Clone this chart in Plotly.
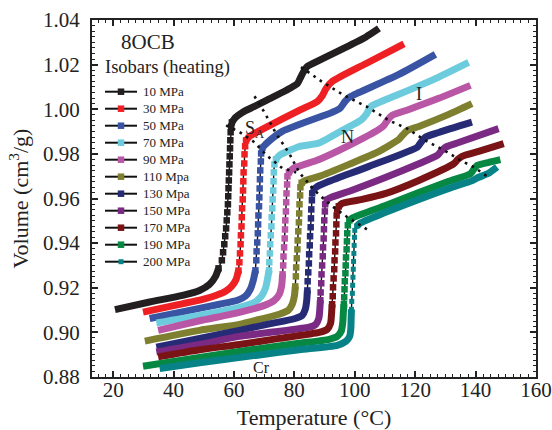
import plotly.graph_objects as go

# ---------------- data (Temperature in °C, Volume in cm3/g) ----------------
names = ["10 MPa", "30 MPa", "50 MPa", "70 MPa", "90 MPa", "110 Mpa",
         "130 Mpa", "150 MPa", "170 MPa", "190 MPa", "200 MPa"]
colors = ["#231f20", "#ee2024", "#3a54a4", "#6ccbdc", "#b956a5", "#7e7f2f",
          "#272b76", "#7b2a84", "#7a1315", "#068843", "#078388"]

# crystal branch
CR10 = [(20.6, .9102), (32.1, .9136), (43.0, .9166), (48.6, .9188), (51.9, .9215), (53.9, .9251), (54.9, .9287)]
CR30 = [(29.9, .9091), (40.4, .9121), (50.3, .9150), (54.2, .9166), (57.2, .9184), (59.2, .9206), (60.7, .9237), (61.5, .9277)]
CR50 = [(32.1, .9062), (43.7, .9094), (55.2, .9126), (61.2, .9144), (63.8, .9162), (65.4, .9193), (66.4, .9233), (67.1, .9278)]
CR70 = [(34.3, .9042), (48.6, .9076), (61.8, .9112), (66.8, .9135), (69.1, .9162), (70.4, .9197), (71.1, .9238), (71.6, .9278)]
CR90 = [(34.9, .9009), (48.6, .9052), (61.8, .9090), (70.1, .9121), (73.4, .9144), (75.0, .9171), (75.8, .9211), (76.1, .9260)]
CR110 = [(30.5, .8961), (48.6, .9009), (61.8, .9036), (68.4, .9058), (75.0, .9081), (78.0, .9099), (79.3, .9126), (80.0, .9162), (80.3, .9206)]
CR130 = [(34.3, .8934), (48.6, .8973), (61.8, .9009), (71.7, .9038), (80.0, .9061), (82.6, .9076), (83.6, .9103), (84.1, .9144), (84.3, .9188)]
CR150 = [(34.3, .8912), (48.6, .8946), (61.8, .8982), (75.0, .9005), (84.9, .9023), (87.1, .9036), (88.1, .9063), (88.4, .9099), (88.6, .9144)]
CR170 = [(34.9, .8890), (48.6, .8922), (61.8, .8946), (75.0, .8973), (88.2, .9000), (90.9, .9014), (92.0, .9041), (92.3, .9081), (92.5, .9126)]
CR190 = [(29.9, .8848), (48.6, .8888), (68.4, .8927), (81.6, .8951), (91.5, .8969), (94.2, .8982), (95.5, .9005), (96.0, .9041), (96.2, .9085), (96.4, .9126)]
CR200 = [(35.4, .8838), (48.6, .8864), (68.4, .8899), (81.6, .8922), (94.2, .8942), (97.1, .8960), (98.3, .8982), (98.7, .9018), (98.8, .9063), (98.9, .9103)]

# melting jump (individual points visible)
MELT10 = [(56.0, .9323), (56.4, .9359), (56.8, .9395), (57.1, .9431), (57.4, .9466), (57.6, .9502), (57.8, .9538), (58.0, .9574), (58.1, .9610), (58.2, .9646), (58.3, .9681), (58.4, .9717), (58.5, .9753), (58.6, .9789), (58.7, .9825), (58.8, .9861), (58.9, .9897), (59.1, .9923)]
MELT30 = [(61.8, .9314), (62.0, .9354), (62.2, .9395), (62.3, .9435), (62.5, .9475), (62.6, .9516), (62.7, .9556), (62.9, .9596), (63.0, .9636), (63.1, .9677), (63.2, .9717), (63.4, .9757), (63.5, .9798), (63.7, .9834)]
MELT50 = [(67.4, .9323), (67.5, .9363), (67.7, .9403), (67.9, .9444), (68.0, .9484), (68.1, .9524), (68.3, .9565), (68.4, .9605), (68.5, .9645), (68.6, .9686), (68.7, .9726), (68.9, .9766), (69.0, .9802)]
MELT70 = [(71.7, .9314), (71.9, .9354), (72.0, .9395), (72.2, .9435), (72.4, .9475), (72.5, .9516), (72.7, .9556), (72.8, .9596), (73.0, .9636), (73.1, .9677), (73.2, .9717), (73.4, .9753)]
MELT90 = [(76.3, .9300), (76.4, .9340), (76.6, .9381), (76.8, .9421), (76.9, .9461), (77.0, .9502), (77.2, .9542), (77.3, .9583), (77.4, .9623), (77.6, .9663), (77.7, .9699)]
MELT110 = [(80.5, .9251), (80.6, .9291), (80.8, .9332), (81.0, .9372), (81.1, .9412), (81.3, .9453), (81.5, .9493), (81.6, .9533), (81.7, .9574), (81.9, .9614), (82.0, .9650)]
MELT130 = [(84.4, .9229), (84.6, .9269), (84.8, .9309), (84.9, .9350), (85.1, .9390), (85.2, .9431), (85.4, .9471), (85.5, .9511), (85.6, .9551), (85.8, .9592), (85.9, .9623)]
MELT150 = [(88.7, .9179), (88.9, .9220), (89.0, .9260), (89.2, .9300), (89.4, .9341), (89.5, .9381), (89.7, .9421), (89.8, .9462), (89.9, .9502), (90.1, .9542), (90.2, .9574)]
MELT170 = [(92.7, .9162), (92.8, .9202), (93.0, .9242), (93.2, .9283), (93.3, .9323), (93.5, .9363), (93.6, .9403), (93.8, .9444), (93.9, .9484), (94.0, .9524), (94.2, .9551)]
MELT190 = [(96.5, .9157), (96.6, .9193), (96.7, .9229), (96.9, .9265), (97.0, .9300), (97.1, .9336), (97.3, .9372), (97.4, .9408), (97.5, .9444), (97.7, .9480)]
MELT200 = [(99.0, .9139), (99.2, .9175), (99.3, .9211), (99.4, .9247), (99.5, .9283), (99.6, .9318), (99.7, .9354), (99.8, .9390), (99.9, .9426), (100.0, .9457)]

# smectic / nematic / isotropic branch
LC10 = [(59.3, .9941), (60.5, .9963), (62.9, .9987), (66.8, 1.0013), (70.6, 1.0039), (77.2, 1.0084), (81.0, 1.0115), (81.9, 1.0138), (82.9, 1.0165), (84.3, 1.0192), (86.0, 1.0204), (94.8, 1.0263), (103.6, 1.0323), (108.0, 1.0362)]
LC30 = [(64.0, .9860), (65.1, .9878), (67.8, .9899), (70.6, .9919), (81.6, .9995), (87.6, 1.0035), (89.3, 1.0062), (90.5, 1.0093), (92.6, 1.0125), (103.6, 1.0204), (116.3, 1.0293)]
LC50 = [(69.4, .9827), (70.6, .9845), (76.0, .9901), (92.5, .9986), (95.1, 1.0004), (96.8, 1.0035), (98.4, 1.0055), (101.4, 1.0075), (114.6, 1.0156), (126.7, 1.0246)]
LC70 = [(73.9, .9775), (75.0, .9793), (81.6, .9833), (88.2, .9849), (96.5, .9910), (102.1, .9952), (103.8, .9977), (105.4, 1.0013), (108.1, 1.0031), (114.6, 1.0067), (126.2, 1.0134), (137.7, 1.0210)]
LC90 = [(78.2, .9717), (79.6, .9735), (88.2, .9775), (98.1, .9838), (108.0, .9910), (109.6, .9927), (111.0, .9954), (112.3, .9972), (117.9, .9999), (127.8, 1.0049), (138.3, 1.0107)]
LC110 = [(82.4, .9670), (83.6, .9681), (88.2, .9699), (98.1, .9753), (108.0, .9811), (114.6, .9865), (115.9, .9885), (117.4, .9905), (121.2, .9923), (131.1, .9977), (138.8, 1.0025)]
LC130 = [(86.4, .9641), (87.6, .9654), (91.5, .9677), (104.7, .9744), (120.7, .9830), (121.9, .9851), (123.4, .9875), (127.8, .9896), (138.8, .9942)]
LC150 = [(90.7, .9594), (91.8, .9603), (99.1, .9637), (110.3, .9695), (121.2, .9756), (127.3, .9793), (128.5, .9811), (130.0, .9830), (134.4, .9851), (147.6, .9913)]
LC170 = [(94.7, .9565), (95.8, .9578), (102.4, .9596), (110.3, .9623), (121.2, .9681), (132.8, .9756), (134.1, .9775), (135.5, .9789), (141.0, .9811), (149.3, .9846)]
LC190 = [(98.2, .9502), (99.2, .9513), (110.2, .9569), (121.2, .9627), (131.1, .9677), (138.3, .9711), (139.4, .9731), (140.5, .9748), (144.4, .9762), (148.2, .9774)]
LC200 = [(100.6, .9475), (101.7, .9489), (110.2, .9538), (121.2, .9596), (132.1, .9650), (138.7, .9679), (141.0, .9695), (144.3, .9713), (147.1, .9741)]

# phase boundaries (dotted)
NI_LINE = [(82.2, 1.0189), (89.3, 1.0122), (96.5, 1.0062), (104.2, 1.0010), (111.3, .9950), (117.4, .9913), (123.4, .9860), (130.6, .9808), (135.0, .9771), (139.4, .9741), (144.9, .9689)]
AN_LINE = [(66.8, 1.0058), (70.1, .9986), (73.9, .9892), (78.3, .9802), (81.6, .9717), (86.6, .9637), (92.1, .9569), (97.5, .9517), (105.4, .9450)]
CRA_LINE = [(57.4, .9928), (61.8, .9898), (66.4, .9856), (71.1, .9790), (76.0, .9736), (80.6, .9717)]

CR = [CR10, CR30, CR50, CR70, CR90, CR110, CR130, CR150, CR170, CR190, CR200]
MELT = [MELT10, MELT30, MELT50, MELT70, MELT90, MELT110, MELT130, MELT150, MELT170, MELT190, MELT200]
LC = [LC10, LC30, LC50, LC70, LC90, LC110, LC130, LC150, LC170, LC190, LC200]

SERIF = "Liberation Serif, Times New Roman, serif"
INK = "#222"
W, H = 552, 430
ML, MR, MT, MB = 92, 16, 20, 53
PW, PH = W - ML - MR, H - MT - MB

fig = go.Figure()

# thick bands (dense data points)
for cr, lc, col in zip(CR, LC, colors):
    for seg in (cr, lc):
        fig.add_trace(go.Scatter(x=[p[0] for p in seg], y=[p[1] for p in seg], mode="lines",
                                 showlegend=False, hoverinfo="skip",
                                 line=dict(color=col, width=7, shape="spline", smoothing=0.6)))

# melting jumps: separated square symbols joined by a black line
for i, (cr, m, lc, col, nm) in enumerate(zip(CR, MELT, LC, colors, names)):
    pts = [cr[-1]] + m + [lc[0]]
    fig.add_trace(go.Scatter(
        x=[p[0] for p in pts], y=[p[1] for p in pts], mode="lines+markers", name=nm,
        showlegend=False,
        line=dict(color="#111", width=1.4),
        marker=dict(symbol="square", size=5 if i == 10 else 6.5, color=col, line=dict(width=0))))

for ln in (NI_LINE, AN_LINE, CRA_LINE):
    fig.add_trace(go.Scatter(x=[p[0] for p in ln], y=[p[1] for p in ln], mode="lines",
                             showlegend=False, hoverinfo="skip",
                             line=dict(color="#111", width=2.6, dash="2.6px,5px")))

axis_common = dict(showline=True, linewidth=2, linecolor=INK, mirror="allticks",
                   ticks="inside", ticklen=6, tickwidth=1.5, tickcolor=INK,
                   showgrid=False, zeroline=False, automargin=False,
                   tickfont=dict(family=SERIF, size=21, color=INK))

fig.update_xaxes(range=[13, 160], tick0=0, dtick=20, **axis_common,
                 ticklabelstandoff=-7,
                 minor=dict(dtick=2.5, ticks="inside", ticklen=3, tickwidth=1, tickcolor=INK),
                 title=dict(text="Temperature (°C)", font=dict(family=SERIF, size=22, color=INK), standoff=16))
fig.update_yaxes(range=[0.88, 1.04], dtick=0.02, tickformat=".2f", **axis_common,
                 ticklabelstandoff=6,
                 minor=dict(dtick=0.0025, ticks="inside", ticklen=3, tickwidth=1, tickcolor=INK),
                 title=dict(text="Volume (cm<sup>3</sup>/g)", font=dict(family=SERIF, size=22, color=INK), standoff=8))


def txt(x, y, s, size, **kw):
    fig.add_annotation(x=x, y=y, text=s, showarrow=False,
                       font=dict(family=SERIF, size=size, color=INK), **kw)


txt(31.5, 1.030, "8OCB", 21)
txt(16.5, 1.0188, "Isobars (heating)", 18.5, xanchor="left")
txt(66.8, 0.9911, "S<sub>A</sub>", 18)
txt(97.6, 0.9876, "N", 18)
txt(121.2, 1.0070, "I", 18)
txt(69.1, 0.8844, "Cr", 16)

# hand-built compact legend (paper coordinates)
LEG_TOP_PX, LEG_STEP_PX = 91.7, 17.0
for i, (nm, col) in enumerate(zip(names, colors)):
    py = LEG_TOP_PX + LEG_STEP_PX * i
    yp = (H - MB - py) / PH
    x0, x1, xc = (105 - ML) / PW, (137 - ML) / PW, (121 - ML) / PW
    sq = 5 if i == 10 else 6.5
    fig.add_shape(type="line", xref="paper", yref="paper", x0=x0, x1=x1, y0=yp, y1=yp,
                  line=dict(color="#111", width=2))
    fig.add_shape(type="rect", xref="paper", yref="paper",
                  x0=xc - sq / 2 / PW, x1=xc + sq / 2 / PW, y0=yp - sq / 2 / PH, y1=yp + sq / 2 / PH,
                  fillcolor=col, line=dict(width=0))
    fig.add_annotation(xref="paper", yref="paper", x=(141 - ML) / PW, y=yp, text=nm,
                       xanchor="left", yanchor="middle", showarrow=False,
                       font=dict(family=SERIF, size=13, color=INK))

fig.update_layout(
    width=W, height=H, margin=dict(l=ML, r=MR, t=MT, b=MB),
    paper_bgcolor="white", plot_bgcolor="white", showlegend=False,
)

fig.write_html("out.html")
